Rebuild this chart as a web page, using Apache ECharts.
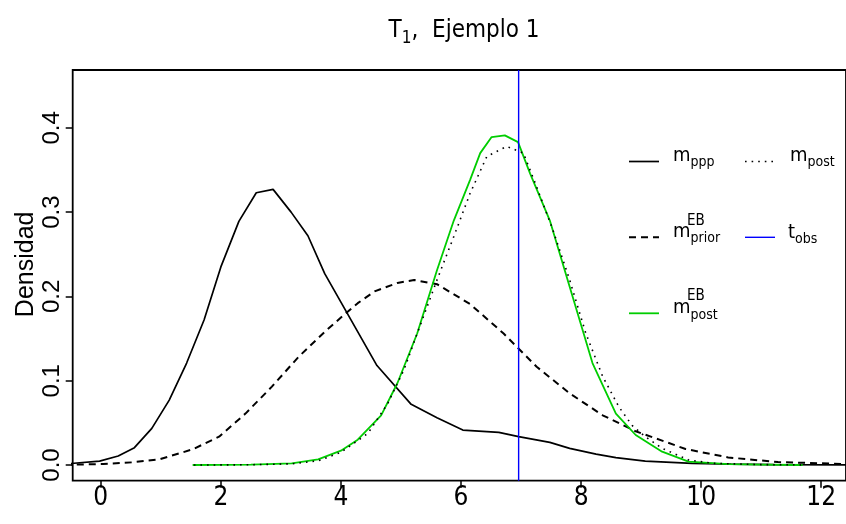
<!DOCTYPE html>
<html><head><meta charset="utf-8">
<script src="https://cdn.jsdelivr.net/npm/echarts@6/dist/echarts.min.js"></script>
<style>html,body{margin:0;padding:0;background:#fff}#c{width:846px;height:524px}</style>
</head><body><div id="c"></div>
<script>
// ---- data ----
const pppX = [-0.6, -0.02, 0.29, 0.56, 0.85, 1.14, 1.43, 1.72, 2.0, 2.30, 2.59, 2.87, 3.17, 3.45, 3.73, 4.60, 5.17, 5.60, 6.03, 6.63, 6.96, 7.48, 7.81, 8.25, 8.58, 9.07, 9.85, 10.5, 11.2, 12.5];
const pppY = [0.0012, 0.0047, 0.0107, 0.0206, 0.0435, 0.077, 0.121, 0.172, 0.235, 0.289, 0.323, 0.327, 0.300, 0.272, 0.227, 0.118, 0.072, 0.056, 0.0415, 0.0388, 0.0336, 0.0269, 0.0198, 0.013, 0.0087, 0.0047, 0.002, 0.001, 0.0005, 0.0002];

const priorX = [-0.6, 0.04, 0.53, 0.98, 1.53, 1.97, 2.41, 2.85, 3.29, 3.73, 4.0, 4.28, 4.56, 4.94, 5.22, 5.60, 6.15, 6.71, 7.26, 7.81, 8.36, 8.91, 9.35, 9.74, 10.45, 11.28, 12.5];
const priorY = [0.0003, 0.0012, 0.0032, 0.0068, 0.0186, 0.0336, 0.061, 0.093, 0.128, 0.158, 0.175, 0.192, 0.2060, 0.2160, 0.2195, 0.2145, 0.191, 0.156, 0.1166, 0.085, 0.059, 0.040, 0.029, 0.019, 0.009, 0.0035, 0.001];

const postX = [1.55, 2.5, 3.2, 3.62, 4.0, 4.45, 4.78, 5.05, 5.27, 5.60, 5.88, 6.15, 6.43, 6.76, 7.04, 7.26, 7.53, 7.81, 8.08, 8.36, 8.63, 8.85, 9.07, 9.35, 9.79, 10.2, 11.0, 11.7];
const postY = [0.0, 0.0003, 0.0015, 0.005, 0.015, 0.0376, 0.073, 0.113, 0.156, 0.2195, 0.271, 0.322, 0.366, 0.378, 0.370, 0.330, 0.279, 0.2195, 0.156, 0.105, 0.069, 0.047, 0.0336, 0.0198, 0.006, 0.002, 0.0005, 0.0002];

const postEBX = [1.53, 2.5, 3.18, 3.62, 4.0, 4.28, 4.67, 4.94, 5.27, 5.60, 5.88, 6.15, 6.32, 6.51, 6.73, 6.95, 7.15, 7.48, 7.81, 8.19, 8.58, 8.91, 9.35, 9.79, 10.45, 11.0, 11.69];
const postEBY = [0.0, 0.0005, 0.002, 0.0068, 0.017, 0.030, 0.059, 0.097, 0.156, 0.231, 0.29, 0.338, 0.37, 0.389, 0.391, 0.383, 0.346, 0.29, 0.2115, 0.121, 0.061, 0.0356, 0.0158, 0.004, 0.001, 0.0005, 0.0];

const tObs = 6.96;

const xTicks = [0, 2, 4, 6, 8, 10, 12];
const yTicks = [0, 0.1, 0.2, 0.3, 0.4];

const titleMain = 'T';
const titleSub = '1';
const titleRest = ',  Ejemplo 1';
const yName = 'Densidad';

// ---- build ----
const zip = (xs, ys) => xs.map((x, i) => [x, ys[i]]);
const NARROW = "'Liberation Sans Narrow','Arial Narrow','DejaVu Sans Condensed','Liberation Sans',sans-serif";
const NORMAL = "'Liberation Sans',Arial,Helvetica,sans-serif";
const GREEN = '#00cd00';
const BLUE = '#0000ff';
const Y0 = -0.0186, Y1 = 0.4686;

const chart = echarts.init(document.getElementById('c'), null, {renderer: 'canvas'});

function legLine(x1, x2, y, color, dash, width) {
  return {type: 'line', shape: {x1: x1, y1: y, x2: x2, y2: y},
          style: {stroke: color, lineWidth: width, lineDash: dash || null}, silent: true};
}
const richLeg = {
  m: {fontSize: 20, lineHeight: 28, fontFamily: NARROW, color: '#000', verticalAlign: 'middle'},
  s: {fontSize: 14, lineHeight: 14, fontFamily: NARROW, color: '#000', verticalAlign: 'bottom'}
};
function legText(x, top, main, sub) {
  return {type: 'text', x: x, y: top, silent: true,
          style: {text: '{m|' + main + '}{s|' + sub + '}', rich: richLeg, align: 'left', verticalAlign: 'top'}};
}
function supText(x, baseline, t) {
  return {type: 'text', x: x, y: baseline - 5.2, silent: true,
          style: {text: t, fontSize: 15, fontFamily: NARROW, fill: '#000', align: 'left', verticalAlign: 'middle'}};
}

const option = {
  animation: false,
  backgroundColor: '#fff',
  title: {
    text: '{t|' + titleMain + '}{s|' + titleSub + '}{t|' + titleRest + '}',
    left: 464, top: 15, textAlign: 'center', padding: 0,
    textStyle: {fontWeight: 'normal', rich: {
      t: {fontSize: 24, lineHeight: 32, fontFamily: NARROW, fontWeight: 'normal', color: '#000', verticalAlign: 'middle'},
      s: {fontSize: 17, lineHeight: 17, fontFamily: NARROW, fontWeight: 'normal', color: '#000', verticalAlign: 'bottom'}
    }}
  },
  grid: {left: 72.7, top: 70, right: -6, bottom: 43.3, show: true, borderColor: '#000', borderWidth: 1.8, backgroundColor: 'transparent'},
  xAxis: {
    type: 'value', min: -0.468, max: 12.413,
    axisLine: {show: false, onZero: false}, splitLine: {show: false},
    axisTick: {show: true, customValues: xTicks, length: 7, lineStyle: {color: '#000', width: 1.5}},
    axisLabel: {customValues: xTicks, margin: 5, fontSize: 26, fontFamily: NARROW, color: '#000'}
  },
  yAxis: {
    type: 'value', min: Y0, max: Y1,
    name: yName, nameLocation: 'middle', nameGap: 34, nameRotate: 90, nameMoveOverlap: false,
    nameTextStyle: {fontSize: 25, fontFamily: NORMAL, color: '#000', padding: [0, 0, 0, 22]},
    axisLine: {show: false, onZero: false}, splitLine: {show: false},
    axisTick: {show: true, customValues: yTicks, length: 7, lineStyle: {color: '#000', width: 1.5}},
    axisLabel: {customValues: yTicks, rotate: 90, margin: 8, fontSize: 24, fontFamily: NORMAL, color: '#000',
                formatter: v => v.toFixed(1)}
  },
  series: [
    {name: 'm_ppp', type: 'line', data: zip(pppX, pppY), showSymbol: false, symbol: 'none',
     lineStyle: {color: '#000', width: 1.7}, z: 2},
    {name: 'm_prior_EB', type: 'line', data: zip(priorX, priorY), showSymbol: false, symbol: 'none',
     lineStyle: {color: '#000', width: 2, type: [7, 5]}, z: 3},
    {name: 'm_post_EB', type: 'line', data: zip(postEBX, postEBY), showSymbol: false, symbol: 'none',
     lineStyle: {color: GREEN, width: 1.8}, z: 4},
    {name: 'm_post', type: 'line', data: zip(postX, postY), showSymbol: false, symbol: 'none',
     lineStyle: {color: '#000', width: 1.6, type: [1.6, 5]}, z: 5},
    {name: 't_obs', type: 'line', data: [[tObs, Y0], [tObs, Y1]], showSymbol: false, symbol: 'none',
     lineStyle: {color: BLUE, width: 1.4}, z: 6}
  ],
  graphic: [
    legLine(629, 659, 161.5, '#000', null, 1.7),
    legLine(745, 773, 161.5, '#000', [1.6, 5], 1.6),
    legLine(629, 659, 237.3, '#000', [7, 5], 2),
    legLine(745, 775, 237.3, BLUE, null, 1.4),
    legLine(629, 659, 313.3, GREEN, null, 1.8),
    legText(673, 141.7, 'm', 'ppp'),
    legText(790, 141.7, 'm', 'post'),
    legText(673, 217.3, 'm', 'prior'),
    legText(788, 218.5, 't', 'obs'),
    legText(673, 294, 'm', 'post'),
    supText(687, 226, 'EB'),
    supText(687, 301.7, 'EB')
  ]
};
chart.setOption(option);
</script>
</body></html>
